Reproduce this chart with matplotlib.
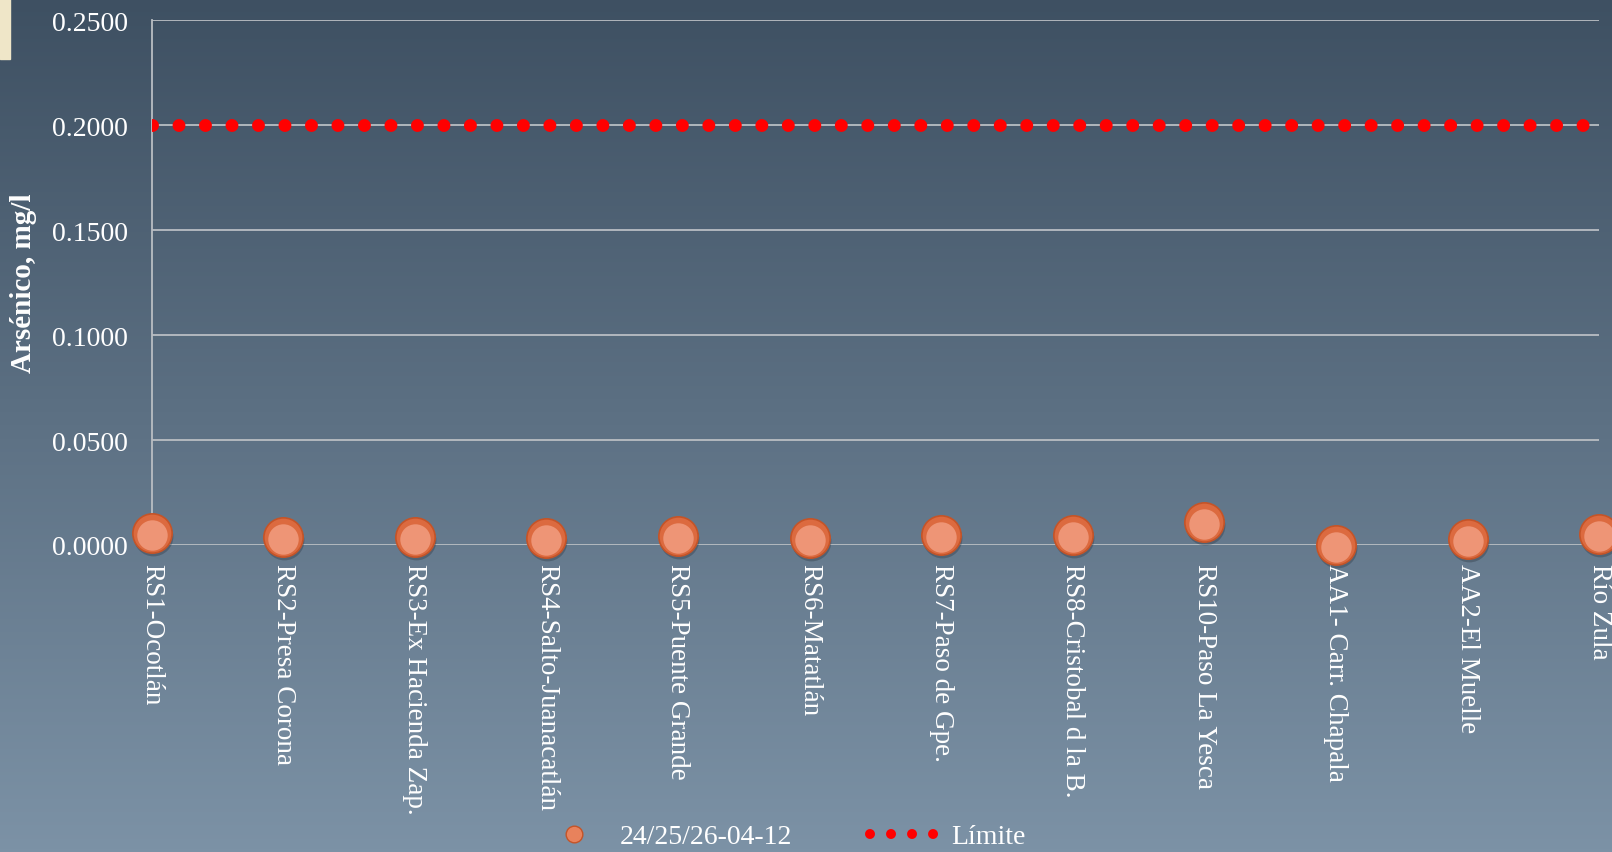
import matplotlib.pyplot as plt
import matplotlib.transforms as mtrans
import numpy as np
from matplotlib.lines import Line2D

# sample sites and arsenic values (mg/l)
sites = ['RS1-Ocotlán', 'RS2-Presa Corona', 'RS3-Ex Hacienda Zap.', 'RS4-Salto-Juanacatlán',
         'RS5-Puente Grande', 'RS6-Matatlán', 'RS7-Paso de Gpe.', 'RS8-Cristobal d la B.',
         'RS10-Paso La Yesca', 'AA1- Carr. Chapala', 'AA2-El Muelle', 'Río Zula']
arsenico = [0.0055, 0.0040, 0.0040, 0.0032, 0.0042, 0.0032, 0.0045, 0.0045,
            0.0110, 0.0002, 0.0027, 0.0052]
limite = [0.2] * len(sites)
serie_label = '24/25/26-04-12'
limite_label = 'Límite'
yticks = [0.0, 0.05, 0.10, 0.15, 0.20, 0.25]

plt.rcParams['font.family'] = ['Liberation Serif', 'DejaVu Serif']

fig = plt.figure(figsize=(16.12, 8.53), dpi=100)

# background gradient
bg = fig.add_axes([0, 0, 1, 1], zorder=-10)
top = np.array([62, 80, 98]) / 255
bot = np.array([124, 146, 166]) / 255
t = np.linspace(0, 1, 256)[:, None]
grad = top + (bot - top) * t
bg.imshow(grad[:, None, :].repeat(4, axis=1), aspect='auto', extent=[0, 1, 0, 1])
bg.add_patch(plt.Rectangle((0, 0.93), 0.006, 0.07, color='#efe6c8', transform=bg.transAxes))
bg.axis('off')

ax = fig.add_axes([0.094, 0.36, 0.898, 0.615])
ax.patch.set_alpha(0)
x = np.arange(len(sites))

for yv in yticks:
    ax.axhline(yv, color='#b9bec3', lw=1.3, zorder=1)

# limit line drawn as round dots
ax.plot(x, limite, color='#ff0000', lw=9.3, linestyle=(0, (0.001, 2.05)),
        dash_capstyle='round', zorder=3)

# sphere-like markers: shadow, body, highlight
shadow = ax.transData + mtrans.ScaledTranslation(0.01, -0.03, fig.dpi_scale_trans)
high = ax.transData + mtrans.ScaledTranslation(0, -0.02, fig.dpi_scale_trans)
ax.scatter(x, arsenico, s=820, color='#2a3440', alpha=0.35, zorder=4, linewidths=0,
           transform=shadow, clip_on=False)
ax.scatter(x, arsenico, s=800, color='#dc6a3f', edgecolors='#c45428', linewidths=1.2,
           zorder=5, clip_on=False)
ax.scatter(x, arsenico, s=480, color='#ee9576', linewidths=0, zorder=6, transform=high,
           clip_on=False)

ax.set_xlim(0, len(sites) - 1)
ax.set_ylim(0, 0.25)
ax.set_yticks(yticks)
ax.set_yticklabels(['%.4f' % v for v in yticks], color='white', fontsize=20)
ax.set_xticks(x)
ax.set_xticklabels(sites, rotation=270, ha='center', va='top', color='white', fontsize=19.5)
ax.tick_params(axis='y', length=0, pad=17)
ax.tick_params(axis='x', length=0, pad=13)
for s in ['top', 'right', 'bottom']:
    ax.spines[s].set_visible(False)
ax.spines['left'].set_color('#b9bec3')
ax.spines['left'].set_linewidth(1.3)
ax.set_ylabel('Arsénico, mg/l', color='white', fontsize=21, fontweight='bold')
ax.yaxis.set_label_coords(-0.079, 0.5)

h1 = Line2D([], [], marker='o', ls='none', markersize=12, markerfacecolor='#e8825c',
            markeredgecolor='#c45428')
h2 = Line2D([], [], color='#ff0000', lw=7.2, linestyle=(0, (0.001, 2.1)), dash_capstyle='round')
fig.legend([h1, h2], [serie_label, limite_label], loc='center', bbox_to_anchor=(0.485, 0.018),
           ncol=2, frameon=False, fontsize=20, labelcolor='white', handlelength=2.6,
           columnspacing=2.8, handletextpad=0.35)

fig.savefig('out.png', dpi=100)
